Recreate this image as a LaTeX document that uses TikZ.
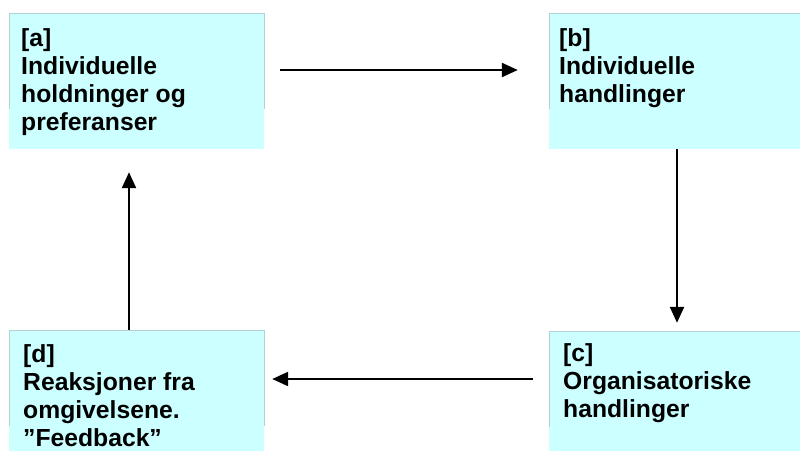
\documentclass[tikz,border=0pt]{standalone}
\usepackage{fontspec}
\setmainfont{Liberation Sans}
\usetikzlibrary{arrows.meta,calc}
\definecolor{boxfill}{RGB}{204,255,255}
\definecolor{rimcol}{RGB}{180,208,212}
\tikzset{
  box/.style={rectangle, fill=boxfill, draw=none, inner sep=0pt},
  rim/.style={draw=rimcol, line width=0.6pt},
  lbl/.style={anchor=base west, inner sep=0pt, font=\fontsize{24.7}{28}\selectfont\bfseries},
  flow/.style={line width=2.2pt, -{Triangle[length=16pt,width=14pt]}}
}
\newcommand{\lines}[1]{\begin{tabular}[t]{@{}l@{}}#1\end{tabular}}
\begin{document}
\begin{tikzpicture}[x=1pt,y=-1pt]
\useasboundingbox (0,0) rectangle (800,451);
% boxes
\node[box, minimum width=255pt, minimum height=136pt] (a) at (136.5,81) {};
\node[box, minimum width=251pt, minimum height=136pt] (b) at (674.5,81) {};
\node[box, minimum width=251pt, minimum height=120pt] (c) at (674.5,391) {};
\node[box, minimum width=255pt, minimum height=121pt] (d) at (136.5,390.5) {};
% partial rims
\foreach \n in {a,b,c,d}{
  \draw[rim] ([yshift=-96pt]\n.north west) -- (\n.north west) -- (\n.north east) -- ([yshift=-96pt]\n.north east);
}
% texts
\node[lbl] (ta) at (21,46) {\lines{[a]\\Individuelle\\holdninger og\\preferanser}};
\node[lbl] (tb) at (559,46) {\lines{[b]\\Individuelle\\handlinger}};
\node[lbl] (tc) at (563,361) {\lines{[c]\\Organisatoriske\\handlinger}};
\node[lbl] (td) at (23,362) {\lines{[d]\\Reaksjoner fra\\omgivelsene.\\”Feedback”}};
% arrow end points
\coordinate (ab1) at ($(a.east)+(16,-11)$);
\coordinate (ab2) at ($(b.west)+(-31,-11)$);
\coordinate (bc1) at ($(b.south)+(2.5,0)$);
\coordinate (bc2) at ($(c.north)+(2.5,-8)$);
\coordinate (cd1) at ($(c.west)+(-16,-12)$);
\coordinate (cd2) at ($(d.east)+(8,-11.5)$);
\coordinate (da1) at ($(d.north)+(-7.5,0)$);
\coordinate (da2) at ($(a.south)+(-7.5,23)$);
\draw[flow] (ab1) -- (ab2);
\draw[flow] (bc1) -- (bc2);
\draw[flow] (cd1) -- (cd2);
\draw[flow] (da1) -- (da2);
\end{tikzpicture}
\end{document}
